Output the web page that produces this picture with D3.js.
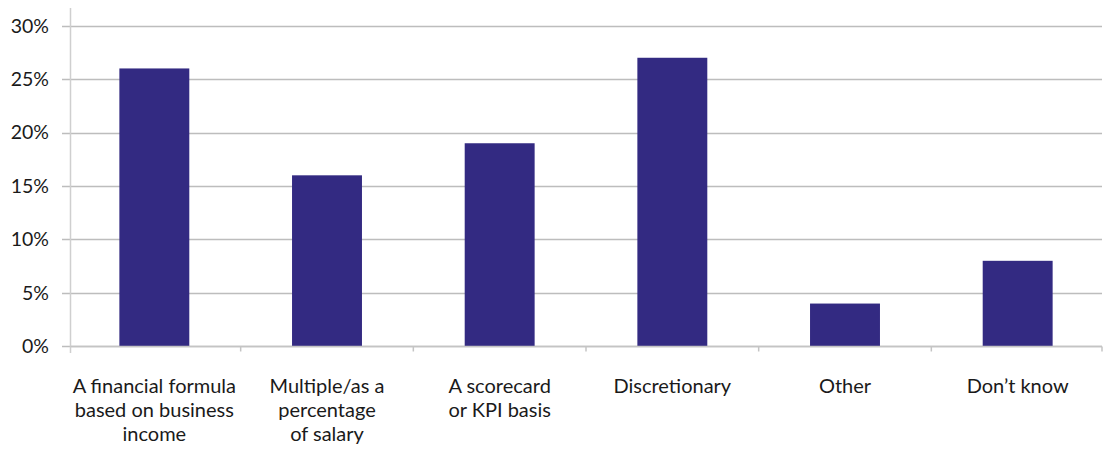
<!DOCTYPE html>
<html>
<head>
<meta charset="utf-8">
<script src="https://cdn.jsdelivr.net/npm/d3@7"></script>
<style>
  body { margin: 0; background: #fff; }
  svg text { font-family: Lato, "Open Sans", sans-serif; fill: #1a1a1a; }
</style>
</head>
<body>
<svg id="chart" width="1103" height="451"></svg>
<script>
// data
const categories = [
    ["A financial formula", "based on business", "income"],
    ["Multiple/as a", "percentage", "of salary"],
    ["A scorecard", "or KPI basis"],
    ["Discretionary"],
    ["Other"],
    ["Don\u2019t know"]
];
const values = [26, 16, 19, 27, 4, 8];
const yTicks = [0, 5, 10, 15, 20, 25, 30];

const svg = d3.select('#chart');
const keys = categories.map((c, i) => i);

const x = d3.scaleBand().domain(keys).range([68, 1104]).paddingInner(0.595).paddingOuter(0.2975);
const y = d3.scaleLinear().domain([0, 30]).range([346.3, 25.7]);

// Gridlines + y tick marks
svg.append('g').selectAll('line').data(yTicks).enter().append('line')
    .attr('x1', 62).attr('x2', 1102)
    .attr('y1', d => Math.round(y(d)) + 0.5).attr('y2', d => Math.round(y(d)) + 0.5)
    .attr('stroke', '#bdbdbd').attr('stroke-width', 1.5);

// y tick labels
svg.append('g').selectAll('text').data(yTicks).enter().append('text')
    .attr('x', 49).attr('y', d => y(d)).attr('dy', '0.35em')
    .attr('text-anchor', 'end').style('font-size', '19.5px')
    .text(d => d + '%');

// Bars
svg.append('g').selectAll('rect').data(values).enter().append('rect')
    .attr('x', (d, i) => x(i)).attr('width', x.bandwidth())
    .attr('y', d => y(d)).attr('height', d => y(0) - y(d))
    .attr('fill', '#332a82');

// y axis line
svg.append('line').attr('x1', 70.5).attr('x2', 70.5).attr('y1', 8).attr('y2', 353)
    .attr('stroke', '#cfcfcf').attr('stroke-width', 1.5);

// x axis line and category tick marks
const y0 = Math.round(y(0)) + 0.5;
svg.append('line').attr('x1', 70.5).attr('x2', 1102).attr('y1', y0).attr('y2', y0)
    .attr('stroke', '#c4c4c4').attr('stroke-width', 1.5);
const bounds = keys.slice(1).map(i => x(i) - x.step() * x.paddingInner() / 2).concat([1102]);
svg.append('g').selectAll('line').data(bounds).enter().append('line')
    .attr('x1', d => d).attr('x2', d => d).attr('y1', y0).attr('y2', y0 + 5)
    .attr('stroke', '#c4c4c4').attr('stroke-width', 1.5);

// Category labels
const lab = svg.append('g').selectAll('text').data(categories).enter().append('text')
    .attr('x', (d, i) => x(i) + x.bandwidth() / 2)
    .attr('y', 393).attr('text-anchor', 'middle').style('font-size', '20px');
lab.selectAll('tspan').data(d => d).enter().append('tspan')
    .attr('x', function () { return d3.select(this.parentNode).attr('x'); })
    .attr('dy', (d, i) => i === 0 ? 0 : 24)
    .text(d => d);
</script>
</body>
</html>
